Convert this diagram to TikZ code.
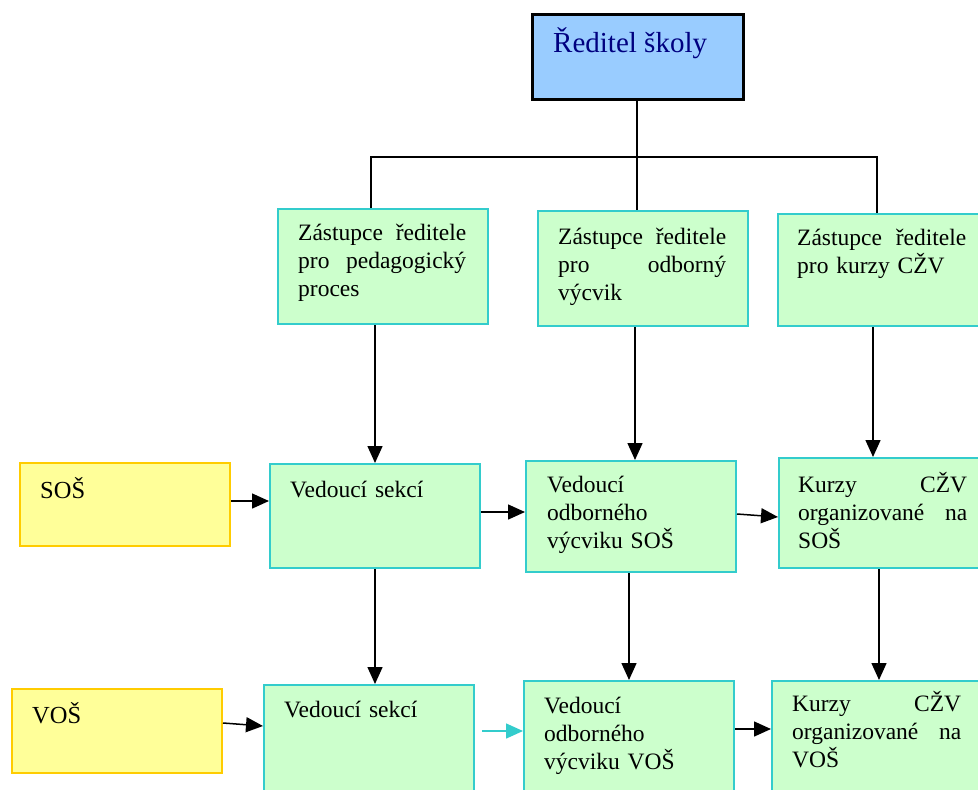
\documentclass[tikz,border=0pt]{standalone}
\usepackage{fontspec}
\setmainfont{Liberation Serif}
\usetikzlibrary{arrows.meta}
\definecolor{boxgreen}{HTML}{CCFFCC}
\definecolor{edgecyan}{HTML}{33CCCC}
\definecolor{boxyellow}{HTML}{FFFF99}
\definecolor{edgegold}{HTML}{FFCC00}
\definecolor{boxblue}{HTML}{99CCFF}
\definecolor{navytext}{HTML}{000080}
\tikzset{
  box/.style={rectangle, anchor=north west, inner sep=0pt, minimum width=210pt},
  greenbox/.style={box, fill=boxgreen, draw=edgecyan, line width=2pt},
  yellowbox/.style={box, fill=boxyellow, draw=edgegold, line width=2pt},
  headbox/.style={box, fill=boxblue, draw=black, line width=2.5pt},
  txt/.style={anchor=base west, inner sep=0pt, align=left, text width=170pt,
    font=\fontsize{23.5}{28}\selectfont},
  conn/.style={draw=black, line width=1.5pt},
  arr/.style={conn, -{Triangle[length=17pt,width=15pt]}},
  cyanarr/.style={draw=edgecyan, line width=1.5pt, -{Triangle[length=17pt,width=15pt]}}
}
\begin{document}
\begin{tikzpicture}[x=1pt,y=-1pt]
\clip (0,0) rectangle (978,790);
\fill[white] (0,0) rectangle (978,790);

% head of school
\node[headbox, minimum width=211pt, minimum height=85pt] (red) at (531,13) {};
\node[anchor=base west, inner sep=0pt, text=navytext, font=\fontsize{29}{34}\selectfont]
  (redt) at (553,52) {Ředitel školy};

% deputies
\node[greenbox, minimum height=115pt] (z1) at (277,208) {};
\node[greenbox, minimum height=115pt] (z2) at (537,210) {};
\node[greenbox, minimum height=112pt] (z3) at (777,213) {};
\node[txt, text width=168pt] (z1t) at (298,240) {Zástupce\hfill ředitele\\pro\hfill pedagogický\\proces};
\node[txt, text width=168pt] (z2t) at (558,244) {Zástupce\hfill ředitele\\pro\hfill odborný\\výcvik};
\node[txt, text width=169pt] (z3t) at (797,245) {Zástupce\hfill ředitele\\pro kurzy CŽV};

% school types
\node[yellowbox, minimum height=83pt] (sos) at (19,462) {};
\node[yellowbox, minimum height=84pt] (vos) at (11,688) {};
\node[txt, font=\fontsize{24.5}{28}\selectfont] (sost) at (40,498) {SOŠ};
\node[txt, font=\fontsize{24.5}{28}\selectfont] (vost) at (32,723) {VOŠ};

% SOŠ row
\node[greenbox, minimum height=104pt] (v1) at (269,463) {};
\node[greenbox, minimum height=111pt] (v2) at (525,460) {};
\node[greenbox, minimum height=110pt] (k1) at (778,457) {};
\node[txt] (v1t) at (290,497) {Vedoucí sekcí};
\node[txt] (v2t) at (547,492) {Vedoucí\\odborného\\výcviku SOŠ};
\node[txt, text width=169pt] (k1t) at (798,492) {Kurzy\hfill CŽV\\organizované\hfill na\\SOŠ};

% VOŠ row
\node[greenbox, minimum height=120pt] (w1) at (263,684) {};
\node[greenbox, minimum height=120pt] (w2) at (523,680) {};
\node[greenbox, minimum height=120pt] (k2) at (771,680) {};
\node[txt] (w1t) at (284,717) {Vedoucí sekcí};
\node[txt] (w2t) at (544,713) {Vedoucí\\odborného\\výcviku VOŠ};
\node[txt, text width=169pt] (k2t) at (792,711) {Kurzy\hfill CŽV\\organizované\hfill na\\VOŠ};

% tree from the head
\coordinate (j) at (637,157);
\draw[conn] (red.south -| j) -- (j);
\draw[conn] (z1.north -| 371,0) |- (j) -| (z3.north -| 877,0);
\draw[conn] (j) -- (z2.north -| j);

% vertical arrows
\draw[arr] (z1.south -| 375,0) -- (v1.north -| 375,0);
\draw[arr] (z2.south -| 635,0) -- (v2.north -| 635,0);
\draw[arr] (z3.south -| 873,0) -- (k1.north -| 873,0);
\draw[arr] (v1.south -| 375,0) -- (w1.north -| 375,0);
\draw[arr] (v2.south -| 629,0) -- (w2.north -| 629,0);
\draw[arr] (k1.south -| 879,0) -- (k2.north -| 879,0);

% horizontal arrows
\draw[arr] (sos.east |- 0,501) -- (v1.west |- 0,501);
\draw[arr] (v1.east |- 0,512) -- (v2.west |- 0,512);
\draw[arr] (v2.east |- 0,514) -- (k1.west |- 0,517);
\draw[arr] (vos.east |- 0,723) -- (w1.west |- 0,726);
\draw[cyanarr] ([xshift=7pt]w1.east |- 0,731) -- (w2.west |- 0,731);
\draw[arr] (w2.east |- 0,729) -- (k2.west |- 0,729);
\end{tikzpicture}
\end{document}
